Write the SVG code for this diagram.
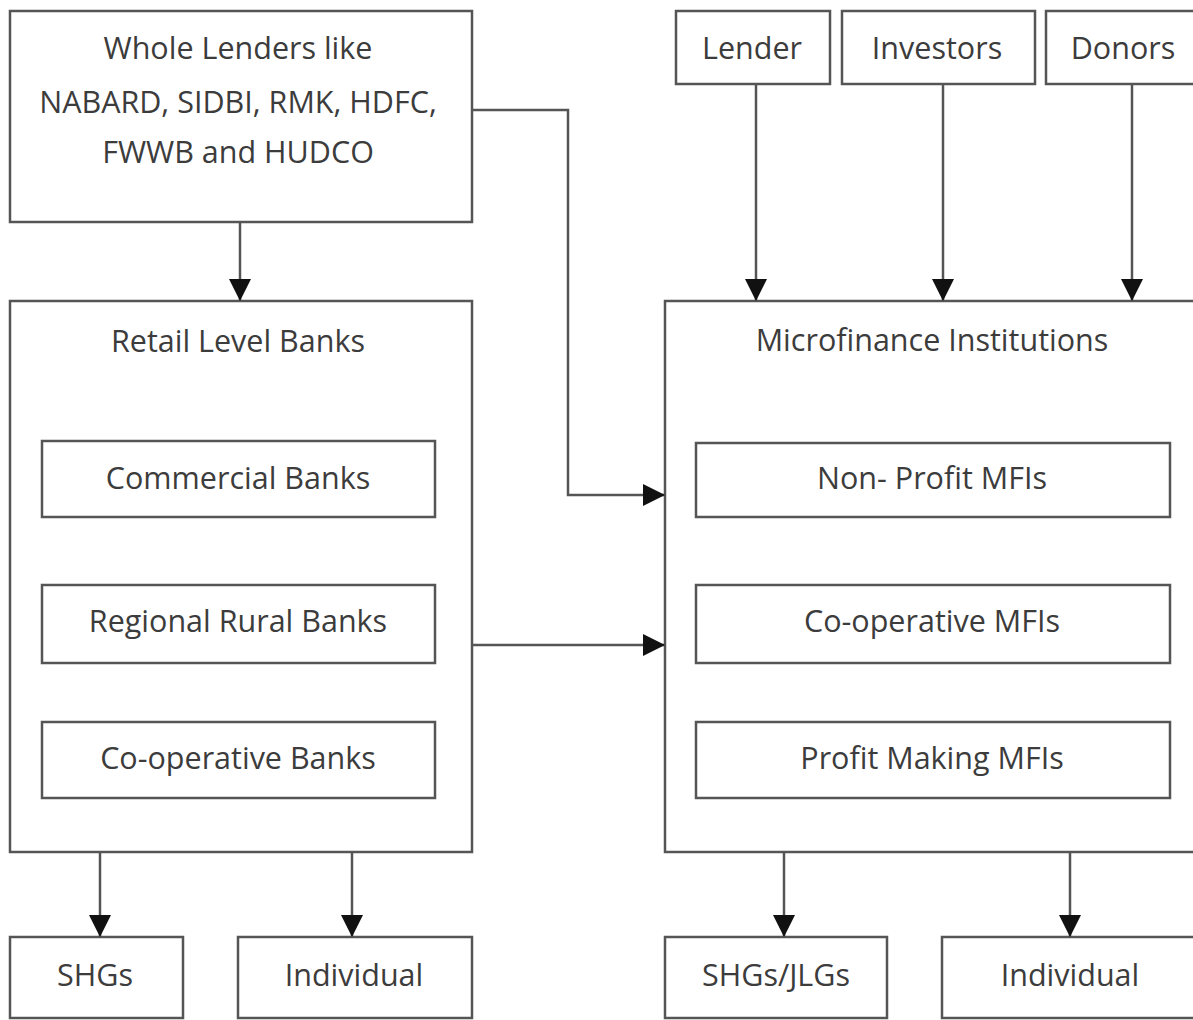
<svg xmlns="http://www.w3.org/2000/svg" width="1193" height="1020" viewBox="0 0 1193 1020">
<defs>
<marker id="ah" markerWidth="24" markerHeight="24" refX="22" refY="11" orient="auto" markerUnits="userSpaceOnUse" viewBox="0 0 24 24">
<path d="M0,0 L22,11 L0,22 Z" fill="#111"/>
</marker>
<style>
.box{fill:#fff;stroke:#555;stroke-width:2.5}
.t{font-family:"Open Sans","Liberation Sans",sans-serif;font-size:30.5px;fill:#3c3c3c;text-anchor:middle}
.c{fill:none;stroke:#555;stroke-width:2.5;marker-end:url(#ah)}
</style>
</defs>
<rect width="1193" height="1020" fill="#fff"/>
<g id="whole-lenders">
<rect class="box" x="10" y="11" width="462" height="211"/>
<text class="t" x="238" y="59">Whole Lenders like</text>
<text class="t" x="238" y="113">NABARD, SIDBI, RMK, HDFC,</text>
<text class="t" x="238" y="163">FWWB and HUDCO</text>
</g>
<g id="lender"><rect class="box" x="676" y="11" width="154" height="73"/><text class="t" x="752" y="59">Lender</text></g>
<g id="investors"><rect class="box" x="842" y="11" width="193" height="73"/><text class="t" x="937" y="59">Investors</text></g>
<g id="donors"><rect class="box" x="1046" y="11" width="152" height="73"/><text class="t" x="1123" y="59">Donors</text></g>
<g id="retail-banks">
<rect class="box" x="10" y="301" width="462" height="551"/>
<text class="t" x="238" y="352">Retail Level Banks</text>
</g>
<g id="commercial-banks"><rect class="box" x="42" y="441" width="393" height="76"/><text class="t" x="238" y="489">Commercial Banks</text></g>
<g id="regional-rural-banks"><rect class="box" x="42" y="585" width="393" height="78"/><text class="t" x="238" y="632">Regional Rural Banks</text></g>
<g id="cooperative-banks"><rect class="box" x="42" y="722" width="393" height="76"/><text class="t" x="238" y="769">Co-operative Banks</text></g>
<g id="mfi">
<rect class="box" x="665" y="301" width="535" height="551"/>
<text class="t" x="932" y="351">Microfinance Institutions</text>
</g>
<g id="non-profit-mfis"><rect class="box" x="696" y="443" width="474" height="74"/><text class="t" x="932" y="489">Non- Profit MFIs</text></g>
<g id="cooperative-mfis"><rect class="box" x="696" y="585" width="474" height="78"/><text class="t" x="932" y="632">Co-operative MFIs</text></g>
<g id="profit-making-mfis"><rect class="box" x="696" y="722" width="474" height="76"/><text class="t" x="932" y="769">Profit Making MFIs</text></g>
<g id="shgs"><rect class="box" x="10" y="937" width="173" height="81"/><text class="t" x="95" y="986">SHGs</text></g>
<g id="individual-1"><rect class="box" x="238" y="937" width="234" height="81"/><text class="t" x="354" y="986">Individual</text></g>
<g id="shgs-jlgs"><rect class="box" x="665" y="937" width="222" height="81"/><text class="t" x="776" y="986">SHGs/JLGs</text></g>
<g id="individual-2"><rect class="box" x="942" y="937" width="260" height="81"/><text class="t" x="1070" y="986">Individual</text></g>
<g id="connectors">
<path class="c" d="M240,222 V301"/>
<path class="c" d="M472,110 H568 V495 H665"/>
<path class="c" d="M472,645 H665"/>
<path class="c" d="M756,84 V301"/>
<path class="c" d="M943,84 V301"/>
<path class="c" d="M1132,84 V301"/>
<path class="c" d="M100,852 V937"/>
<path class="c" d="M352,852 V937"/>
<path class="c" d="M784,852 V937"/>
<path class="c" d="M1070,852 V937"/>
</g>
</svg>
